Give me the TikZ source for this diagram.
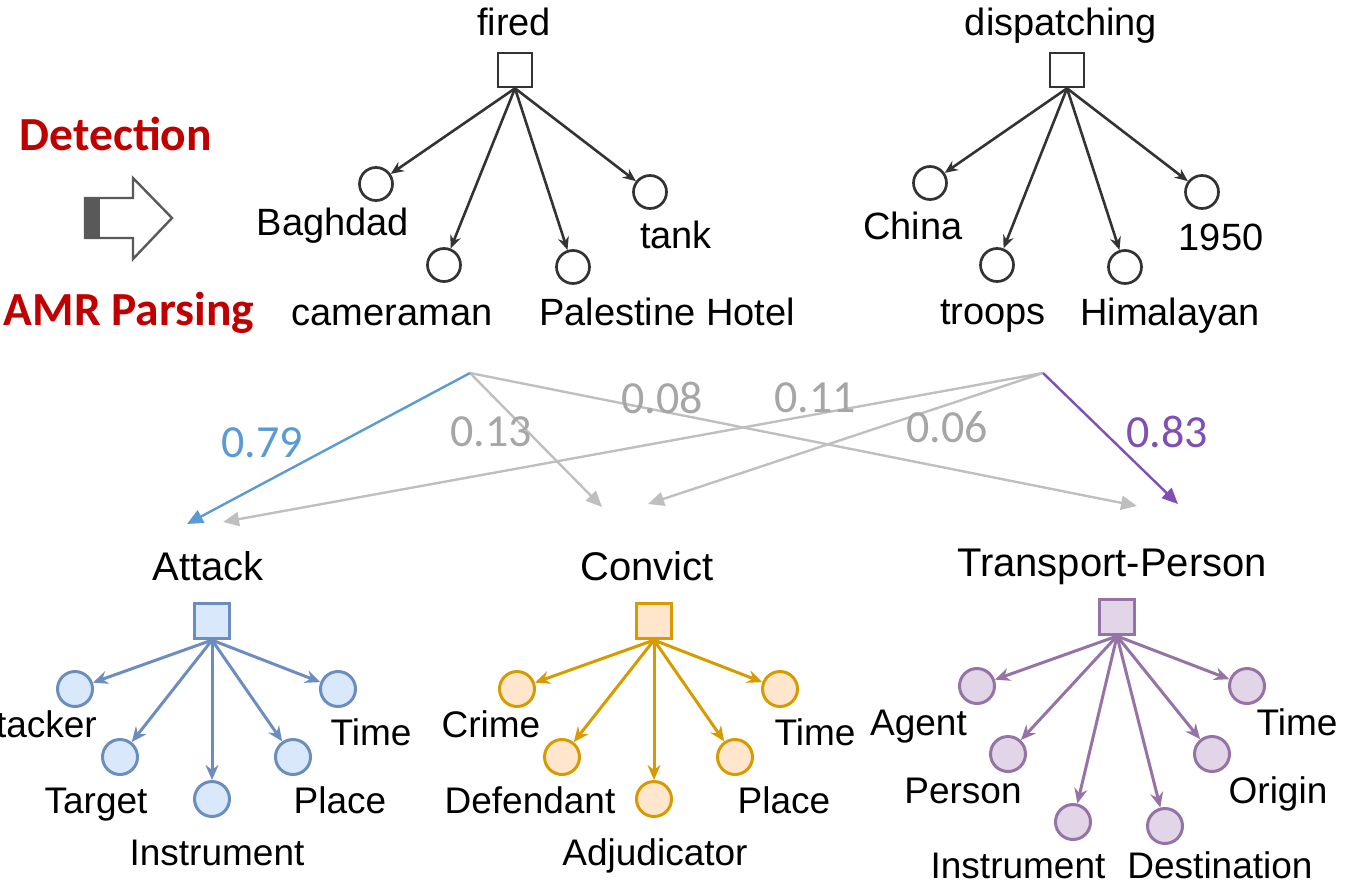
\documentclass[tikz,border=0pt]{standalone}
\usepackage{fontspec}
\setmainfont{Liberation Sans}
\newfontfamily\calib{Carlito}
\usetikzlibrary{arrows.meta}

\definecolor{darkln}{HTML}{333333}
\definecolor{redtxt}{HTML}{C00000}
\definecolor{blockgray}{HTML}{595959}
\definecolor{scoregray}{HTML}{BFBFBF}
\definecolor{scoretxt}{HTML}{A6A6A6}
\definecolor{bluehi}{HTML}{5B9BD5}
\definecolor{purplehi}{HTML}{7F4FB3}
\definecolor{bfill}{HTML}{DAE8FC}
\definecolor{bline}{HTML}{6C8EBF}
\definecolor{ofill}{HTML}{FFE6CC}
\definecolor{oline}{HTML}{D79B00}
\definecolor{pfill}{HTML}{E1D5E7}
\definecolor{pline}{HTML}{9673A6}

\tikzset{
  toplbl/.style={font=\fontsize{38}{44}\selectfont, inner sep=0pt, anchor=base},
  botlbl/.style={font=\fontsize{37}{43}\selectfont, inner sep=0pt, anchor=base},
  evlbl/.style={font=\fontsize{40}{46}\selectfont, inner sep=0pt, anchor=base},
  score/.style={font=\calib\fontsize{46}{52}\selectfont, inner sep=0pt},
  phase/.style={font=\calib\bfseries\fontsize{47.5}{52}\selectfont, text=redtxt, inner sep=0pt, anchor=base},
  trig/.style={draw=darkln, line width=2.7pt, minimum size=34pt, inner sep=0pt, fill=white},
  arg/.style={circle, draw=darkln, line width=2.7pt, minimum size=33pt, inner sep=0pt},
  amr/.style={draw=darkln, line width=2.6pt, -{Stealth[length=13pt,width=11pt]}},
  evsq/.style={draw=#1line, fill=#1fill, line width=3.2pt, minimum size=35pt, inner sep=0pt},
  role/.style={circle, draw=#1line, fill=#1fill, line width=3pt, minimum size=35pt, inner sep=0pt},
  rolearr/.style={draw=#1line, line width=3pt, -{Stealth[length=15pt,width=13pt]}},
  link/.style={draw=#1, line width=2.4pt, -{Triangle[length=16pt,width=14pt]}}
}

\begin{document}
\begin{tikzpicture}[x=1pt, y=-1pt]
\useasboundingbox (0,0) rectangle (1362,886);

% phase labels and block arrow
\node[phase] (det) at (116,150) {Detection};
\node[phase] (parse) at (129,325) {AMR Parsing};
\fill[blockgray] (85,198) rectangle (100,238);
\draw[blockgray, line width=2.4pt, line join=miter]
  (85,198) -- (133,198) -- (133,178) -- (172,218) -- (133,259) -- (133,238) -- (85,238) -- cycle;

% AMR graph: fired
\node[toplbl] (firedT) at (514,35) {fired};
\node[trig] (fired) at (515,70) {};
\node[arg] (bagh) at (376,184) {};
\node[arg] (cam) at (444,265) {};
\node[arg] (pal) at (573,267) {};
\node[arg] (tank) at (650,192) {};
\node[toplbl] (baghT) at (333,235) {Baghdad};
\node[toplbl] (camT) at (392,325) {cameraman};
\node[toplbl] (palT) at (667,325) {Palestine Hotel};
\node[toplbl] (tankT) at (676,248) {tank};
\foreach \t in {bagh,cam,pal,tank} \draw[amr] (fired.south) -- (\t);

% AMR graph: dispatching
\node[toplbl] (dispT) at (1061,35) {dispatching};
\node[trig] (disp) at (1067,70) {};
\node[arg] (china) at (930,183) {};
\node[arg] (troops) at (997,265) {};
\node[arg] (hima) at (1125,267) {};
\node[arg] (year) at (1202,192) {};
\node[toplbl] (chinaT) at (913,239) {China};
\node[toplbl] (troopsT) at (993,324) {troops};
\node[toplbl] (himaT) at (1170,325) {Himalayan};
\node[toplbl] (yearT) at (1221,250) {1950};
\foreach \t in {china,troops,hima,year} \draw[amr] (disp.south) -- (\t);

% matching links
\coordinate (srcA) at (470,373);
\coordinate (srcB) at (1043,373);
\coordinate (inAtk1) at (187,524);
\coordinate (inAtk2) at (223,522);
\coordinate (inCon1) at (602,507);
\coordinate (inCon2) at (648,504);
\coordinate (inTP1) at (1137,506);
\coordinate (inTP2) at (1178,504);
\draw[link=scoregray] (srcA) -- (inCon1);
\draw[link=scoregray] (srcA) -- (inTP1);
\draw[link=scoregray] (srcB) -- (inAtk2);
\draw[link=scoregray] (srcB) -- (inCon2);
\draw[link=bluehi] (srcA) -- (inAtk1);
\draw[link=purplehi] (srcB) -- (inTP2);
\node[score, text=bluehi] (s1) at (262,443) {0.79};
\node[score, text=scoretxt] (s2) at (491,432) {0.13};
\node[score, text=scoretxt] (s3) at (662,398) {0.08};
\node[score, text=scoretxt] (s4) at (815,398) {0.11};
\node[score, text=scoretxt] (s5) at (947,427) {0.06};
\node[score, text=purplehi] (s6) at (1167,432) {0.83};

% event type: Attack
\node[evlbl] (atkT) at (208,580) {Attack};
\node[evsq=b] (atk) at (212,621) {};
\node[role=b] (a1) at (75,689) {};
\node[role=b] (a2) at (120,757) {};
\node[role=b] (a3) at (212,799) {};
\node[role=b] (a4) at (293,757) {};
\node[role=b] (a5) at (338,689) {};
\foreach \t in {a1,a2,a3,a4,a5} \draw[rolearr=b] (atk.south) -- (\t);
\node[botlbl, anchor=base east] (a1T) at (97,737) {Attacker};
\node[botlbl] (a2T) at (96,813) {Target};
\node[botlbl] (a3T) at (217,865) {Instrument};
\node[botlbl] (a4T) at (340,813) {Place};
\node[botlbl] (a5T) at (371,745) {Time};

% event type: Convict
\node[evlbl] (conT) at (647,580) {Convict};
\node[evsq=o] (con) at (654,621) {};
\node[role=o] (c1) at (517,689) {};
\node[role=o] (c2) at (562,757) {};
\node[role=o] (c3) at (654,799) {};
\node[role=o] (c4) at (735,757) {};
\node[role=o] (c5) at (780,689) {};
\foreach \t in {c1,c2,c3,c4,c5} \draw[rolearr=o] (con.south) -- (\t);
\node[botlbl] (c1T) at (491,737) {Crime};
\node[botlbl] (c2T) at (530,813) {Defendant};
\node[botlbl] (c3T) at (655,865) {Adjudicator};
\node[botlbl] (c4T) at (784,813) {Place};
\node[botlbl] (c5T) at (815,745) {Time};

% event type: Transport-Person
\node[evlbl] (tpT) at (1112,576) {Transport-Person};
\node[evsq=p] (tp) at (1117,617) {};
\node[role=p] (t1) at (977,686) {};
\node[role=p] (t2) at (1008,754) {};
\node[role=p] (t3) at (1073,822) {};
\node[role=p] (t4) at (1165,826) {};
\node[role=p] (t5) at (1212,754) {};
\node[role=p] (t6) at (1247,686) {};
\foreach \t in {t1,t2,t3,t4,t5,t6} \draw[rolearr=p] (tp.south) -- (\t);
\node[botlbl, anchor=base east] (t1T) at (967,735) {Agent};
\node[botlbl] (t2T) at (963,803) {Person};
\node[botlbl] (t3T) at (1018,878) {Instrument};
\node[botlbl] (t4T) at (1220,878) {Destination};
\node[botlbl] (t5T) at (1278,803) {Origin};
\node[botlbl] (t6T) at (1297,735) {Time};
\end{tikzpicture}
\end{document}
